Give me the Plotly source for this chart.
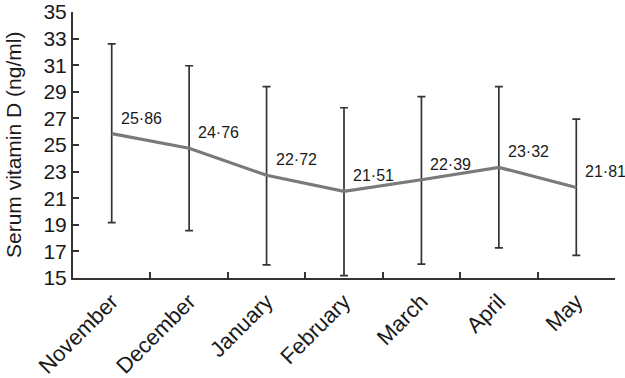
import plotly.graph_objects as go

months = ["November", "December", "January", "February", "March", "April", "May"]
means = [25.86, 24.76, 22.72, 21.51, 22.39, 23.32, 21.81]
upper = [32.6, 30.96, 29.39, 27.8, 28.64, 29.39, 26.95]
lower = [19.16, 18.56, 15.98, 15.18, 16.05, 17.26, 16.7]
labels = ["25·86", "24·76", "22·72", "21·51", "22·39", "23·32", "21·81"]
yticks = list(range(15, 36, 2))

err_plus = [u - m for u, m in zip(upper, means)]
err_minus = [m - l for m, l in zip(means, lower)]

FONT = "Liberation Sans, Arial, Helvetica"

W, H = 625, 378
L, R, T, B = 73, 10, 12, 100
plot_w = W - L - R

fig = go.Figure()
fig.add_trace(go.Scatter(
    x=months, y=means, mode="lines",
    line=dict(color="#7a7a7a", width=3.2),
    error_y=dict(type="data", symmetric=False, array=err_plus, arrayminus=err_minus,
                 color="#333333", thickness=1.7, width=4),
    showlegend=False, cliponaxis=False, hoverinfo="skip",
))

for m, v, t in zip(months, means, labels):
    fig.add_annotation(x=m, y=v, text=t, showarrow=False, xanchor="left", yanchor="bottom",
                       xshift=7, yshift=5, font=dict(family=FONT, size=16, color="#1a1a1a"))

fig.add_annotation(xref="paper", yref="paper", x=(13 - L) / plot_w, y=0.5,
                   text="Serum vitamin D (ng/ml)", textangle=-90, showarrow=False,
                   xanchor="center", yanchor="middle",
                   font=dict(family=FONT, size=21, color="#1a1a1a"))

fig.update_layout(
    width=W, height=H,
    margin=dict(l=L, r=R, t=T, b=B, autoexpand=False),
    plot_bgcolor="white", paper_bgcolor="white",
    font=dict(family=FONT, color="#1a1a1a"),
)
fig.update_xaxes(
    type="category", range=[-0.5, 6.5], tickson="boundaries", automargin=False,
    showline=True, linecolor="#333333", linewidth=2,
    ticks="inside", ticklen=6, tickcolor="#333333", tickwidth=2,
    tickangle=-45, tickfont=dict(size=22), showgrid=False,
)
fig.update_yaxes(
    range=[15, 35], tickvals=yticks, ticktext=[str(v) for v in yticks], automargin=False,
    showline=True, linecolor="#333333", linewidth=2,
    ticks="inside", ticklen=6, tickcolor="#333333", tickwidth=2,
    tickfont=dict(size=21), showgrid=False, zeroline=False,
)

fig.write_html("out.html", config={"displayModeBar": False},
               post_script="document.body.style.margin='0px';")
